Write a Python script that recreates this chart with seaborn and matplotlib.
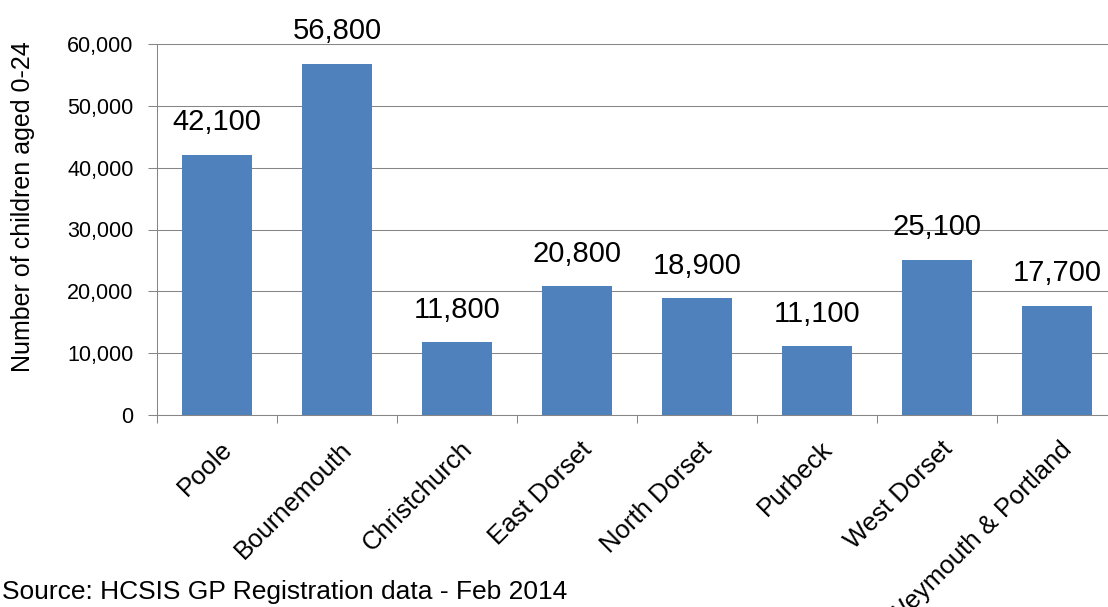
import matplotlib
matplotlib.use("Agg")
import matplotlib.pyplot as plt
import matplotlib.transforms as mtransforms
import seaborn as sns
import pandas as pd
import numpy as np
from matplotlib.ticker import FuncFormatter, FixedLocator

districts = ["Poole", "Bournemouth", "Christchurch", "East Dorset", "North Dorset",
             "Purbeck", "West Dorset", "Weymouth & Portland"]
children = [42100, 56800, 11800, 20800, 18900, 11100, 25100, 17700]
y_ticks = [0, 10000, 20000, 30000, 40000, 50000, 60000]

sns.set_theme(style="white")
plt.rcParams["font.family"] = ["Liberation Sans", "DejaVu Sans"]

df = pd.DataFrame({"district": districts, "children": children})

W, H = 1108, 607
fig = plt.figure(figsize=(W / 100, H / 100), dpi=100)
ax = fig.add_axes([157 / W, (H - 415) / H, 960 / W, 371 / H])

sns.barplot(data=df, x="district", y="children", color="#4F81BD", width=0.58,
            saturation=1, ax=ax, edgecolor="none")

ax.set_xlim(-0.5, len(districts) - 0.5)
ax.set_ylim(0, 60000)
ax.yaxis.set_major_locator(FixedLocator(y_ticks))
ax.yaxis.set_major_formatter(FuncFormatter(lambda v, p: f"{int(v):,}"))
ax.grid(axis="y", color="#868686", linewidth=0.75)
ax.set_axisbelow(True)

for s in ["top", "right"]:
    ax.spines[s].set_visible(False)
for s in ["left", "bottom"]:
    ax.spines[s].set_color("#868686")
    ax.spines[s].set_linewidth(0.75)

ax.tick_params(axis="y", which="major", length=6.5, width=0.75, color="#868686",
               labelsize=15.5, pad=10.5, left=True, labelcolor="black")
ax.tick_params(axis="x", which="major", length=0, labelsize=18.5, pad=16, labelcolor="black")
ax.set_xticks(np.arange(len(districts)))
ax.set_xticklabels(districts, rotation=45, ha="right", rotation_mode="anchor")
offset = mtransforms.ScaledTranslation(3 / 100, 0, fig.dpi_scale_trans)
for lbl in ax.get_xticklabels():
    lbl.set_transform(lbl.get_transform() + offset)
ax.set_xticks(np.arange(len(districts) + 1) - 0.5, minor=True)
ax.tick_params(axis="x", which="minor", length=5.8, width=0.75, color="#868686", bottom=True)

ax.set_xlabel("")
ax.set_ylabel("Number of children aged 0-24", fontsize=18, color="black")
ax.yaxis.set_label_coords((35 - 157) / 960, 0.563)

for i, v in enumerate(children):
    ax.annotate(f"{v:,}", (i, v), xytext=(0, 17.5), textcoords="offset points",
                ha="center", va="baseline", fontsize=21, color="black")

fig.text(0.0015, 8 / H, "Source: HCSIS GP Registration data - Feb 2014",
         fontsize=19, color="black", ha="left", va="baseline")

fig.savefig("out.png", dpi=100)
